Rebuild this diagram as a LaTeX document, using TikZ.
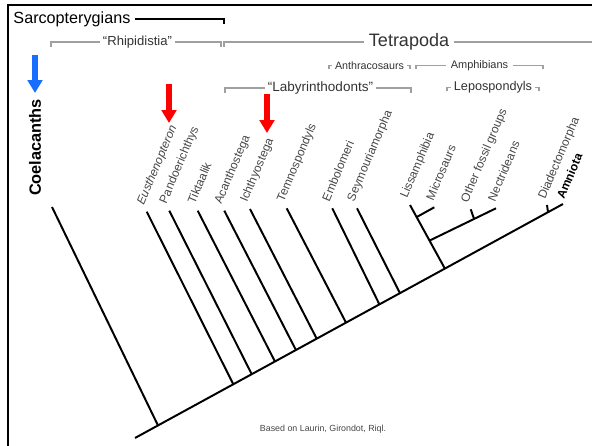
\documentclass[tikz,border=0pt]{standalone}
\usepackage{fontspec}
\setmainfont{Liberation Sans}
\usepackage{tikz}
\usetikzlibrary{arrows.meta,calc,positioning}
\definecolor{my_gray}{RGB}{160,160,160}
\definecolor{my_text}{RGB}{70,70,70}
\definecolor{my_dark}{RGB}{50,50,50}
\definecolor{my_red}{RGB}{255,0,0}
\definecolor{my_blue}{RGB}{25,110,255}
\tikzset{
  taxon/.style = {rotate=67, anchor=base west, inner sep=0pt, text=my_text,
  font=\fontsize{8.5}{10}\selectfont},
  taxon_it/.style = {taxon, font=\fontsize{8.5}{10}\selectfont\itshape},
  clade_lbl/.style = {inner sep=2.2pt, text=my_dark},
  branch/.style = {line width=1.4pt, black},
  bracket/.style = {line width=1pt, my_gray}
}
\begin{document}
\begin{tikzpicture}[x=0.025cm, y=-0.025cm,
        mark_arr/.style={line width=3.6pt, -{Triangle[width=0.36cm,length=0.32cm]}},
        sz/.style={font=\fontsize{#1}{#1}\selectfont}]
        \useasboundingbox (0,0) rectangle (592,446);
        \draw[line width=1.4pt] (8,446) -- (8,5) -- (592,5);
        % clade brackets
        \node[sz=11.5, anchor=base west, inner sep=3pt] (sarc) at (9,23.3) {Sarcopterygians};
        \coordinate (sarc_end) at (224,24);
        \draw[line width=1.5pt] (sarc.east) -| (sarc_end);
        \node[clade_lbl, sz=9.3] (rhip) at (137.5,42) {“Rhipidistia”};
        \coordinate (rhip_l) at (51,47); \coordinate (rhip_r) at (221,47);
        \draw[bracket] (rhip_l) |- (rhip.west); \draw[bracket] (rhip.east) -| (rhip_r);
        \node[clade_lbl, sz=12.8, inner sep=3pt] (tetra) at (409,42) {Tetrapoda};
        \coordinate (tetra_l) at (224,47); \coordinate (tetra_r) at (592,42);
        \draw[bracket] (tetra_l) |- (tetra.west); \draw[bracket] (tetra.east) -- (tetra_r);
        \node[clade_lbl, sz=7.6] (anth) at (369.5,65.5) {Anthracosaurs};
        \coordinate (anth_l) at (329,69.5); \coordinate (anth_r) at (410,69.5);
        \draw[bracket] (anth_l) |- (anth.west); \draw[bracket] (anth.east) -| (anth_r);
        \node[clade_lbl, sz=7.8, inner sep=3pt] (amph) at (479.5,65.5) {Amphibians};
        \coordinate (amph_l) at (416,69.5); \coordinate (amph_r) at (543,69.5);
        \draw[bracket] (amph_l) |- (amph.west); \draw[bracket] (amph.east) -| (amph_r);
        \node[clade_lbl, sz=9.6] (laby) at (320.5,88) {“Labyrinthodonts”};
        \coordinate (laby_l) at (225,93); \coordinate (laby_r) at (411,93);
        \draw[bracket] (laby_l) |- (laby.west); \draw[bracket] (laby.east) -| (laby_r);
        \node[clade_lbl, sz=9] (lepo) at (493,87.3) {Lepospondyls};
        \coordinate (lepo_l) at (447,91.5); \coordinate (lepo_r) at (539,91.5);
        \draw[bracket] (lepo_l) |- (lepo.west); \draw[bracket] (lepo.east) -| (lepo_r);
        % highlight arrows
        \coordinate (blue_s) at (35,55); \coordinate (blue_t) at (35,93);
        \draw[mark_arr, my_blue] (blue_s) -- (blue_t);
        \coordinate (red1_s) at (169,84); \coordinate (red1_t) at (169,123);
        \draw[mark_arr, my_red] (red1_s) -- (red1_t);
        \coordinate (red2_s) at (267,94); \coordinate (red2_t) at (267,133);
        \draw[mark_arr, my_red] (red2_s) -- (red2_t);
        \node[rotate=90, font=\fontsize{11.6}{12}\selectfont\bfseries, inner sep=0pt] (coel_lbl) at (35,147.5) {Coelacanths};
        % tree
        \coordinate (root) at (135,438);
        \coordinate (amn) at (563,204);
        \draw[branch] (root) -- (amn);
        \coordinate (coel) at (52,207);
        \draw[branch] (coel) -- ($(root)!0.0537!(amn)$);
        \coordinate (eus) at (146.7,211.7);
        \coordinate (pan) at (169.3,210.7);
        \coordinate (tik) at (197.7,210.7);
        \coordinate (aca) at (224.3,210.7);
        \coordinate (ich) at (250,209);
        \coordinate (tem) at (286.7,208.3);
        \coordinate (emb) at (332.3,208.3);
        \coordinate (sey) at (357,208.3);
        \coordinate (lis) at (410,205);
        \coordinate (mic) at (434.3,207.3);
        \coordinate (oth) at (470.7,209.3);
        \coordinate (nec) at (496,208.3);
        \coordinate (dia) at (547,205);
        \draw[branch] (eus) -- ($(root)!0.2297!(amn)$);
        \draw[branch] (pan) -- ($(root)!0.2727!(amn)$);
        \draw[branch] (tik) -- ($(root)!0.327!(amn)$);
        \draw[branch] (aca) -- ($(root)!0.376!(amn)$);
        \draw[branch] (ich) -- ($(root)!0.4245!(amn)$);
        \draw[branch] (tem) -- ($(root)!0.493!(amn)$);
        \draw[branch] (emb) -- ($(root)!0.571!(amn)$);
        \draw[branch] (sey) -- ($(root)!0.619!(amn)$);
        \coordinate (lep_j) at ($(root)!0.724!(amn)$);
        \draw[branch] (lis) -- (lep_j);
        \coordinate (mic_j) at ($(lep_j)!0.81!(lis)$);
        \coordinate (nec_j) at ($(lep_j)!0.44!(lis)$);
        \draw[branch] (mic_j) -- (mic);
        \draw[branch] (nec_j) -- (nec);
        \draw[branch] ($(nec_j)!0.67!(nec)$) -- (oth);
        \draw[branch] ($(root)!0.965!(amn)$) -- (dia);
        % taxon labels
        \node[taxon_it] (eus_lbl) at ($(eus)+(-3,-6)$) {Eusthenopteron};
        \node[taxon] (pan_lbl) at ($(pan)+(-3,-6)$) {Pandoerichthys};
        \node[taxon] (tik_lbl) at ($(tik)+(-3,-6)$) {Tiktaalik};
        \node[taxon] (aca_lbl) at ($(aca)+(-3,-6)$) {Acanthostega};
        \node[taxon] (ich_lbl) at ($(ich)+(-3,-6)$) {Ichthyostega};
        \node[taxon] (tem_lbl) at ($(tem)+(-3,-6)$) {Temnospondyls};
        \node[taxon] (emb_lbl) at ($(emb)+(-3,-6)$) {Embolomeri};
        \node[taxon] (sey_lbl) at ($(sey)+(-3,-6)$) {Seymouriamorpha};
        \node[taxon] (lis_lbl) at ($(lis)+(-3,-6)$) {Lissamphibia};
        \node[taxon] (mic_lbl) at ($(mic)+(-1,-6)$) {Microsaurs};
        \node[taxon] (oth_lbl) at ($(oth)+(-3,-6)$) {Other fossil groups};
        \node[taxon] (nec_lbl) at ($(nec)+(-1,-6)$) {Nectrideans};
        \node[taxon] (dia_lbl) at ($(dia)+(-2,-5)$) {Diadectomorpha};
        \node[taxon, text=black, font=\fontsize{8.5}{10}\selectfont\bfseries] (amn_lbl) at ($(amn)+(1,-4)$) {Amniota};
        \node[text=my_text, sz=6.3] (src) at (323,429.3) {Based on Laurin, Girondot, Riql.};
\end{tikzpicture}
\end{document}
